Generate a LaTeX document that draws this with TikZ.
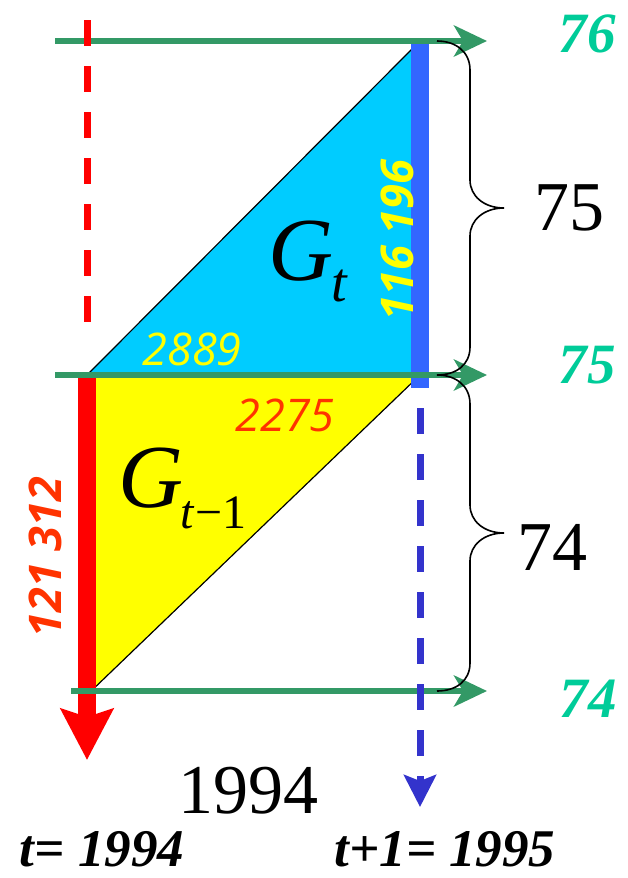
\documentclass[tikz,border=0pt]{standalone}
\usepackage{fontspec}
\setmainfont{Liberation Serif}
\newfontfamily\numfont{Open Sans}
\usetikzlibrary{arrows.meta}
\definecolor{gline}{HTML}{339966}
\definecolor{tealtxt}{HTML}{00CC99}
\definecolor{cyanfill}{HTML}{00CCFF}
\definecolor{bluebar}{HTML}{3366FF}
\definecolor{bluedash}{HTML}{3333CC}
\definecolor{redtxt}{HTML}{FF3300}
\definecolor{yel}{HTML}{FFFF00}
\begin{document}
\begin{tikzpicture}[x=1pt,y=-1pt,
  hline/.style={draw=gline, line width=6pt, -{Stealth[length=33pt,width=31pt,inset=9pt]}},
  brace/.style={draw=black, line width=1.6pt},
  glabel/.style={text=tealtxt, font=\fontsize{57}{57}\selectfont\bfseries\itshape, inner sep=0pt, anchor=base},
  blabel/.style={text=black, font=\fontsize{70}{70}\selectfont, inner sep=0pt, anchor=base},
  tlabel/.style={text=black, font=\fontsize{53}{53}\selectfont\bfseries\itshape, inner sep=0pt, anchor=base},
  numlab/.style={font=\fontsize{45}{45}\selectfont\numfont\itshape, inner sep=0pt},
  numlabb/.style={font=\fontsize{45}{45}\selectfont\numfont\bfseries\itshape, inner sep=0pt, rotate=90},
  dashln/.style={line width=7pt, dash pattern=on 26pt off 20pt}
]
\useasboundingbox (0,0) rectangle (628,878);
% key points
\coordinate (A) at (87,375);
\coordinate (B) at (420,41);
\coordinate (C) at (420,375);
\coordinate (D) at (87,695);
% triangles
\fill[cyanfill] (A) -- (B) -- (C) -- cycle;
\fill[yel] (A) -- (C) -- (D) -- cycle;
\draw[line width=1.2pt] (A) -- (B);
\draw[line width=1.2pt] (C) -- (D);
% blue bar
\fill[bluebar] (411,41) rectangle (429,388);
% red thick arrow
\coordinate (redtop) at (87,377);
\coordinate (redtip) at (87,760);
\draw[red, line width=18pt, -{Stealth[length=51pt,width=52pt,inset=8pt]}] (redtop) -- (redtip);
% green lines
\coordinate (g1s) at (55,41);  \coordinate (g1e) at (487,41);
\coordinate (g2s) at (55,375); \coordinate (g2e) at (487,375);
\coordinate (g3s) at (71,691); \coordinate (g3e) at (487,691);
\draw[hline] (g1s) -- (g1e);
\draw[hline] (g2s) -- (g2e);
\draw[hline] (g3s) -- (g3e);
% dashed lines
\coordinate (rds) at (87,20); \coordinate (rde) at (87,324);
\draw[red, dashln] (rds) -- (rde);
\coordinate (bds) at (420,408); \coordinate (bde) at (420,807);
\draw[bluedash, dashln, -{Stealth[length=32pt,width=32pt,inset=6pt]}] (bds) -- (bde);
% braces
\draw[brace] (437,41) .. controls (456,41) and (470,52) .. (470,70) -- (470,180)
  .. controls (470,196) and (484,208) .. (504,208)
  .. controls (484,208) and (470,220) .. (470,236) -- (470,347)
  .. controls (470,365) and (456,375) .. (437,375);
\draw[brace] (437,375) .. controls (456,375) and (470,386) .. (470,404) -- (470,505)
  .. controls (470,521) and (484,533) .. (504,533)
  .. controls (484,533) and (470,545) .. (470,561) -- (470,663)
  .. controls (470,681) and (456,691) .. (437,691);
% green labels
\node[glabel] (l76) at (587,52) {76};
\node[glabel] (l75) at (587,383) {75};
\node[glabel] (l74) at (588,717) {74};
% brace labels
\node[blabel] (b75) at (569,230) {75};
\node[blabel] (b74) at (552,570) {74};
\node[blabel] (y1994) at (248,813) {1994};
% bottom labels
\node[tlabel] (tA) at (102,866) {t= 1994};
\node[tlabel] (tB) at (445,866) {t+1= 1995};
% G labels
\node[inner sep=0pt, anchor=base west] (Gt) at (268,280)
  {\fontsize{90}{90}\selectfont\textit{G}\kern-2pt\raisebox{-21pt}{\fontsize{56}{56}\selectfont\textit{t}}};
\node[inner sep=0pt, anchor=base west] (Gt1) at (118,507)
  {\fontsize{90}{90}\selectfont\textit{G}\kern-3pt\raisebox{-21pt}{\fontsize{48}{48}\selectfont\textit{t}\kern1pt−1}};
% numbers
\node[numlab, text=yel] (n2889) at (192,349) {2889};
\node[numlab, text=redtxt] (n2275) at (285,415) {2275};
\node[numlabb, text=yel] (n116) at (397,240) {116 196};
\node[numlabb, text=redtxt] (n121) at (45,557) {121 312};
\end{tikzpicture}
\end{document}
